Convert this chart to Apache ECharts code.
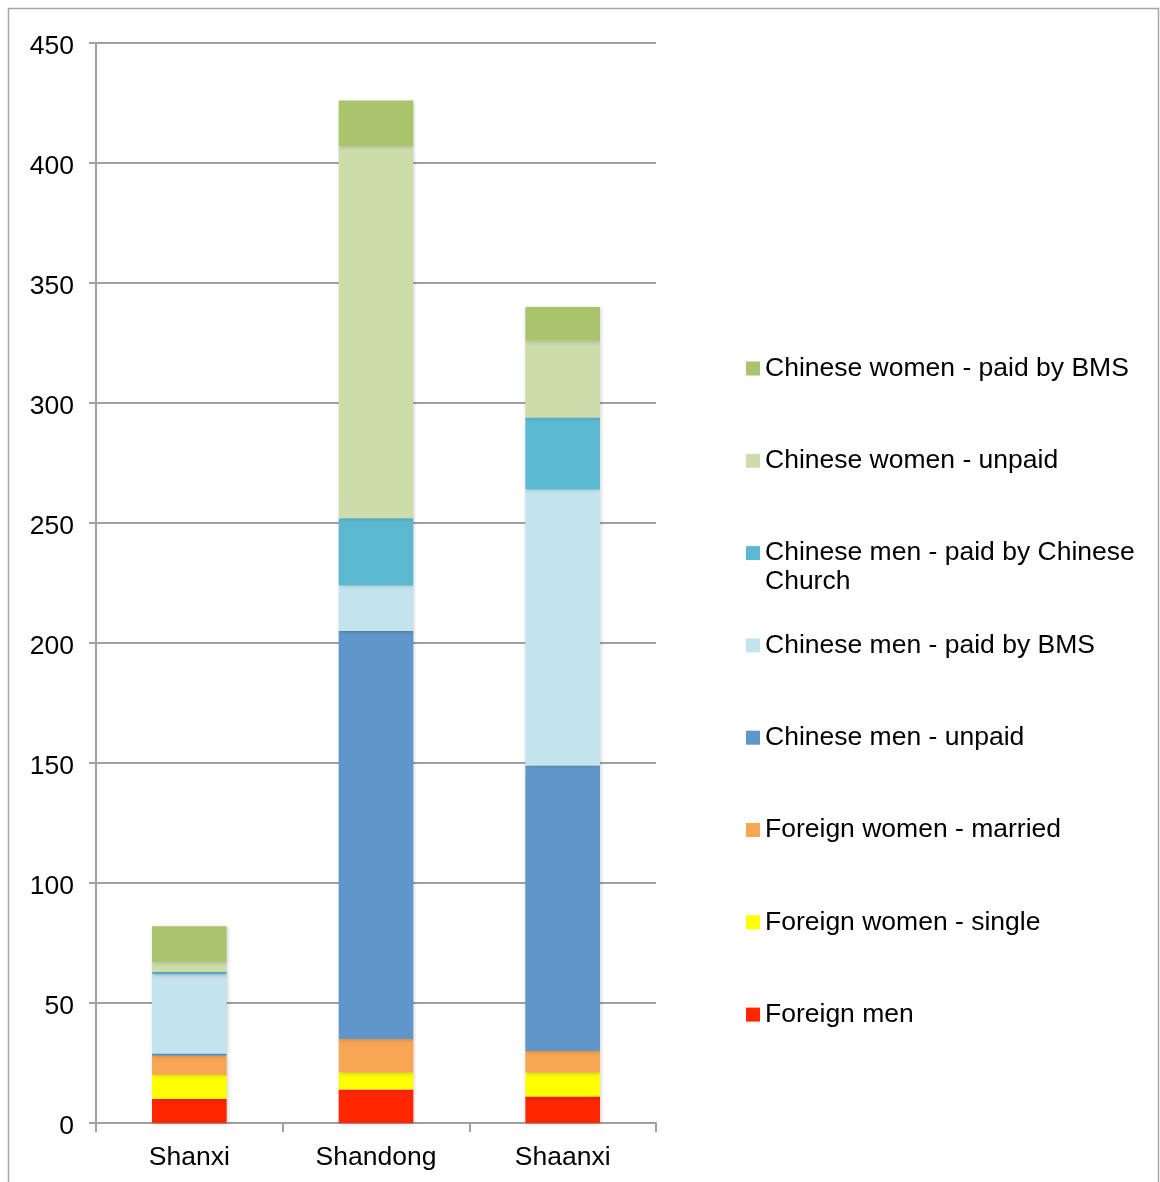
<!DOCTYPE html>
<html>
<head>
<meta charset="utf-8">
<script src="https://cdn.jsdelivr.net/npm/echarts@6/dist/echarts.min.js"></script>
<style>
  html, body { margin: 0; padding: 0; background: #fff; }
  #chart { width: 1160px; height: 1182px; }
</style>
</head>
<body>
<div id="chart"></div>
<script>
// provinces
var categories = ['Shanxi', 'Shandong', 'Shaanxi'];

// values, bottom of the stack first
var foreignMen        = [10, 14, 11];
var foreignSingle     = [10, 7, 10];
var foreignMarried    = [8, 14, 9];
var chineseMenUnpaid  = [1, 170, 119];
var chineseMenBMS     = [33, 19, 115];
var chineseMenChurch  = [1, 28, 30];
var chineseWomUnpaid  = [4, 155, 32];
var chineseWomBMS     = [15, 19, 14];

var seriesNames = [
  'Foreign men',
  'Foreign women - single',
  'Foreign women - married',
  'Chinese men - unpaid',
  'Chinese men - paid by BMS',
  'Chinese men - paid by Chinese Church',
  'Chinese women - unpaid',
  'Chinese women - paid by BMS'
];
var seriesData = [foreignMen, foreignSingle, foreignMarried, chineseMenUnpaid,
  chineseMenBMS, chineseMenChurch, chineseWomUnpaid, chineseWomBMS];
var colors = ['#FF2600', '#FFFF00', '#F8A654', '#6096C9',
  '#C3E3ED', '#5BB8D1', '#CCDCAB', '#A9C46C'];

var font = 'Liberation Sans, Arial, sans-serif';
var fs = 26.5;
var wrapName = 'Chinese men - paid by Chinese Church';

var series = seriesNames.map(function (name, i) {
  return {
    name: name,
    type: 'bar',
    stack: 'total',
    barWidth: '40%',
    data: seriesData[i],
    itemStyle: {
      color: colors[i],
      shadowColor: 'rgba(0,0,0,0.18)',
      shadowBlur: 4,
      shadowOffsetX: 1,
      shadowOffsetY: 1
    }
  };
});

// legend: one block per item, top of the stack first
var legendTop = 355, legendStep = 92.3;
var legends = [];
var wrapRow = 0;
for (var k = 0; k < seriesNames.length; k++) {
  var nm = seriesNames[seriesNames.length - 1 - k];
  if (nm === wrapName) wrapRow = k;
  legends.push({
    data: [nm],
    orient: 'vertical',
    left: 746,
    top: legendTop + k * legendStep,
    padding: 0,
    itemWidth: 14,
    itemHeight: 14,
    icon: 'rect',
    selectedMode: false,
    formatter: function (n) {
      // the long name wraps; its second line is drawn below
      return n === wrapName ? 'Chinese men - paid by Chinese' : n;
    },
    textStyle: { fontFamily: font, fontSize: fs, color: '#000' }
  });
}

var chart = echarts.init(document.getElementById('chart'));
chart.setOption({
  backgroundColor: '#fff',
  animation: false,
  color: colors,
  graphic: [{
    type: 'rect',
    shape: { x: 8.5, y: 8.5, width: 1150, height: 1190 },
    style: { fill: 'none', stroke: '#a6a6a6', lineWidth: 1.5 },
    silent: true
  }, {
    type: 'text',
    left: 765,
    top: legendTop + wrapRow * legendStep + 7 + 22,
    style: { text: 'Church', font: fs + 'px ' + font, fill: '#000' },
    silent: true
  }],
  legend: legends,
  grid: { left: 96, right: 504, top: 43, bottom: 59, containLabel: false },
  xAxis: {
    type: 'category',
    data: categories,
    axisLine: { lineStyle: { color: '#a0a0a0', width: 2 } },
    axisTick: { show: true, length: 9, lineStyle: { color: '#a0a0a0', width: 2 } },
    axisLabel: { fontFamily: font, fontSize: fs, color: '#000', margin: 21 }
  },
  yAxis: {
    type: 'value',
    min: 0,
    max: 450,
    interval: 50,
    axisLine: { show: true, lineStyle: { color: '#a0a0a0', width: 2 } },
    axisTick: { show: true, length: 7, lineStyle: { color: '#a0a0a0', width: 2 } },
    axisLabel: {
      color: '#000', margin: 22,
      formatter: '{v|{value}}',
      rich: { v: { fontFamily: font, fontSize: fs, color: '#000', padding: [8, 0, 0, 0] } }
    },
    splitLine: { show: true, lineStyle: { color: '#a0a0a0', width: 2 } }
  },
  series: series
});
</script>
</body>
</html>
